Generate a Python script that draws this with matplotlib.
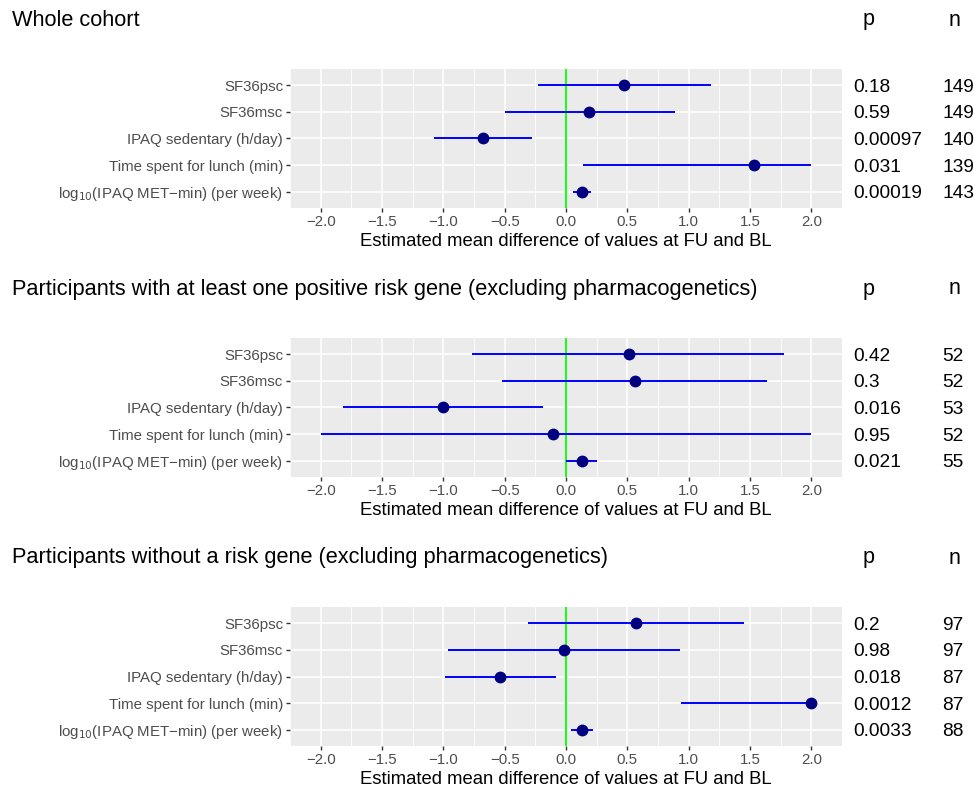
import numpy as np
import matplotlib.pyplot as plt

plt.rcParams['font.family'] = ['Liberation Sans', 'DejaVu Sans']

titles = ['Whole cohort',
          'Participants with at least one positive risk gene (excluding pharmacogenetics)',
          'Participants without a risk gene (excluding pharmacogenetics)']
labels = ['SF36psc', 'SF36msc', 'IPAQ sedentary (h/day)', 'Time spent for lunch (min)',
          'log$_{10}$(IPAQ MET\u2212min) (per week)']

est_all = [0.47, 0.19, -0.68, 1.53, 0.13]
lo_all = [-0.23, -0.50, -1.08, 0.14, 0.06]
hi_all = [1.18, 0.89, -0.28, 2.0, 0.20]
p_all = ['0.18', '0.59', '0.00097', '0.031', '0.00019']
n_all = ['149', '149', '140', '139', '143']

est_risk = [0.51, 0.56, -1.0, -0.11, 0.13]
lo_risk = [-0.77, -0.52, -1.82, -2.0, 0.0]
hi_risk = [1.78, 1.64, -0.19, 2.0, 0.25]
p_risk = ['0.42', '0.3', '0.016', '0.95', '0.021']
n_risk = ['52', '52', '53', '52', '55']

est_none = [0.57, -0.02, -0.54, 2.0, 0.13]
lo_none = [-0.31, -0.96, -0.99, 0.94, 0.04]
hi_none = [1.45, 0.93, -0.08, 2.0, 0.22]
p_none = ['0.2', '0.98', '0.018', '0.0012', '0.0033']
n_none = ['97', '97', '87', '87', '88']

panels = [(est_all, lo_all, hi_all, p_all, n_all),
          (est_risk, lo_risk, hi_risk, p_risk, n_risk),
          (est_none, lo_none, hi_none, p_none, n_none)]

W, H = 974, 788
fig = plt.figure(figsize=(W / 100, H / 100), dpi=100)

tops = [69, 338, 607]
ax_h = 139
ax_l, ax_r = 290, 842
ticks = np.arange(-2, 2.01, 0.5)

for k, (est, lo, hi, pv, nv) in enumerate(panels):
    top = tops[k]
    ax = fig.add_axes([ax_l / W, 1 - (top + ax_h) / H, (ax_r - ax_l) / W, ax_h / H])
    ax.set_facecolor('#EBEBEB')
    for s in ax.spines.values():
        s.set_visible(False)
    ypos = np.arange(len(labels))[::-1]
    ax.set_xlim(-2.2, 2.2)
    ax.set_ylim(-0.6, len(labels) - 0.4)
    ax.set_xticks(ticks)
    ax.set_xticks(np.arange(-2.25, 2.26, 0.25), minor=True)
    ax.set_xticklabels(['\u2212' + f'{abs(t):.1f}' if t < 0 else f'{t:.1f}' for t in ticks])
    ax.set_yticks(ypos)
    ax.set_yticklabels(labels)
    ax.grid(True, which='major', color='white', lw=1.1)
    ax.grid(True, which='minor', axis='x', color='white', lw=0.55)
    ax.set_axisbelow(True)
    ax.tick_params(axis='both', which='major', length=3, width=1, color='#333333',
                   labelcolor='#4D4D4D', labelsize=10.8, pad=2)
    ax.tick_params(which='minor', length=0)
    ax.axvline(0, color='#00FF00', lw=1.3, zorder=2)
    ax.hlines(ypos, lo, hi, color='#0000FF', lw=1.4, zorder=3)
    ax.plot(est, ypos, 'o', color='#000080', ms=7.5, zorder=4)
    ax.set_xlabel('Estimated mean difference of values at FU and BL', fontsize=13.3,
                  labelpad=3)

    fig.text(12 / W, 1 - (top - 49) / H, titles[k], fontsize=15.7, va='center', ha='left')
    fig.text(869 / W, 1 - (top - 49) / H, 'p', fontsize=15.5, va='center', ha='center')
    fig.text(955 / W, 1 - (top - 49) / H, 'n', fontsize=15.5, va='center', ha='center')
    for i in range(len(labels)):
        yy = (ax.transData.transform((0, ypos[i]))[1] - 2) / H
        fig.text(853 / W, yy, pv[i], fontsize=13.8, va='center', ha='left')
        fig.text(942 / W, yy, nv[i], fontsize=13.8, va='center', ha='left')

fig.savefig('out.png', dpi=100)
